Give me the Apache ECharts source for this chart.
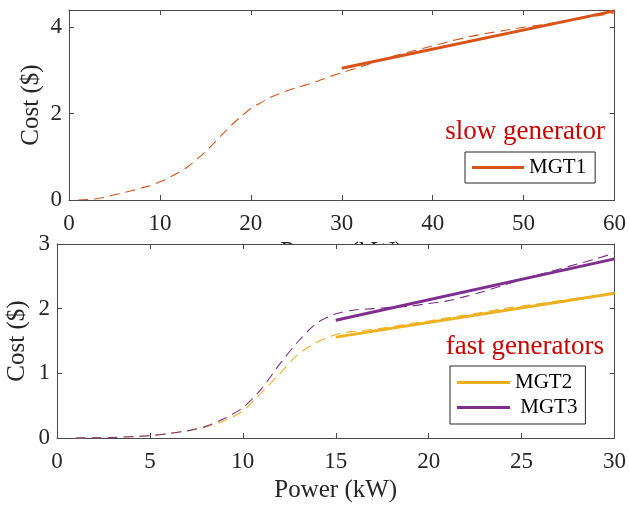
<!DOCTYPE html>
<html>
<head>
<meta charset="utf-8">
<script src="https://cdn.jsdelivr.net/npm/echarts@6/dist/echarts.min.js"></script>
<style>
html,body{margin:0;padding:0;background:#fff;}
#chart{width:629px;height:505px;}
</style>
</head>
<body>
<div id="chart"></div>
<script>
// ---- data ----
// Top panel: slow generator MGT1
const mgt1CurveX = [1,2,3,4,5,6,7,8,9,10,11,12,13,14,15,16,17,18,19,20,21,22,23,24,25,26,27,28,29,30,32,34,36,38,40,42,44,46,48,50,52,54,56,58,60];
const mgt1CurveY = [0,0.01,0.03,0.07,0.12,0.17,0.22,0.28,0.34,0.42,0.52,0.63,0.76,0.93,1.12,1.33,1.55,1.76,1.95,2.12,2.24,2.36,2.45,2.53,2.6,2.66,2.73,2.8,2.88,2.95,3.08,3.22,3.35,3.46,3.57,3.68,3.78,3.86,3.93,4.0,4.06,4.12,4.19,4.26,4.33];
const mgt1LineX = [30,60];
const mgt1LineY = [3.05,4.38];

// Bottom panel: fast generators MGT2, MGT3
const fastCurveX = [1,2,3,4,5,6,7,8,9,10,11,12,13,14,15,16,17,18,19,20,21,22,23,24,25,26,27,28,29,30];
const mgt2CurveY = [0,0.003,0.008,0.02,0.035,0.07,0.11,0.17,0.27,0.42,0.7,1.0,1.3,1.48,1.6,1.65,1.68,1.72,1.77,1.81,1.86,1.9,1.95,2.0,2.04,2.08,2.12,2.16,2.2,2.24];
const mgt3CurveY = [0,0.003,0.008,0.02,0.035,0.07,0.11,0.18,0.3,0.47,0.76,1.15,1.5,1.78,1.92,1.98,2.0,2.02,2.04,2.08,2.12,2.19,2.27,2.36,2.45,2.53,2.61,2.69,2.77,2.86];
const mgt2LineX = [15,30];
const mgt2LineY = [1.56,2.24];
const mgt3LineX = [15,30];
const mgt3LineY = [1.82,2.77];

const topXTicks = {min:0, max:60, interval:10};
const topYTicks = {min:0, max:4.4, interval:2};
const botXTicks = {min:0, max:30, interval:5};
const botYTicks = {min:0, max:3, interval:1};

const xLabel = 'Power (kW)';
const yLabel = 'Cost ($)';
const topTitle = 'slow generator';
const botTitle = 'fast generators';

// ---- styling ----
const FONT = 'Liberation Serif';
const AX = '#4a4a4a';
const TXT = '#262626';
const C1 = '#D95319', C2 = '#EDB120', C3 = '#7E2F8E';

function pairs(xs, ys){ return xs.map((x,i)=>[x, ys[i]]); }

function mainX(grid, t, z, name){
  return {
    gridIndex: grid, type:'value', position:'bottom', min:t.min, max:t.max, interval:t.interval, z:z,
    axisLine:{show:true, onZero:false, lineStyle:{color:AX, width:1}},
    axisTick:{show:true, inside:true, length:5, lineStyle:{color:AX}},
    axisLabel:{show:true, margin:12, color:TXT, fontFamily:FONT, fontSize:23},
    splitLine:{show:false},
    name:name, nameLocation:'middle', nameGap:40,
    nameTextStyle:{color:TXT, fontFamily:FONT, fontSize:25}
  };
}
function secX(grid, t, z){
  return {
    gridIndex: grid, type:'value', position:'top', min:t.min, max:t.max, interval:t.interval, z:z,
    axisLine:{show:true, onZero:false, lineStyle:{color:AX, width:1}},
    axisTick:{show:true, inside:true, length:5, lineStyle:{color:AX}},
    axisLabel:{show:false}, splitLine:{show:false}
  };
}
function mainY(grid, t, z){
  return {
    gridIndex: grid, type:'value', position:'left', min:t.min, max:t.max, interval:t.interval, z:z,
    axisLine:{show:true, onZero:false, lineStyle:{color:AX, width:1}},
    axisTick:{show:true, inside:true, length:5, lineStyle:{color:AX}},
    axisLabel:{show:true, margin:7, color:TXT, fontFamily:FONT, fontSize:23,
      formatter: v => (Math.abs(v/t.interval - Math.round(v/t.interval)) < 1e-6 ? String(v) : '')},
    splitLine:{show:false}
  };
}
function secY(grid, t, z){
  return {
    gridIndex: grid, type:'value', position:'right', min:t.min, max:t.max, interval:t.interval, z:z,
    axisLine:{show:true, onZero:false, lineStyle:{color:AX, width:1}},
    axisTick:{show:true, inside:true, length:5, lineStyle:{color:AX}},
    axisLabel:{show:false}, splitLine:{show:false}
  };
}

const dashStyle = (c) => ({color:c, width:1.1, type:[10,6]});
const yNameText = (x, y) => ({type:'text', z:20, x:x, y:y, rotation:Math.PI/2,
  style:{text:yLabel, fill:TXT, font:'25px "Liberation Serif"', textAlign:'center', textVerticalAlign:'middle'}});

const option = {
  animation:false,
  backgroundColor:'#fff',
  grid:[
    {left:69, right:13, top:10, height:190, containLabel:false},
    {left:57, right:11, top:244, height:194, containLabel:false}
  ],
  xAxis:[ mainX(0, topXTicks, 0, xLabel), secX(0, topXTicks, 0), mainX(1, botXTicks, 10, xLabel), secX(1, botXTicks, 10) ],
  yAxis:[ mainY(0, topYTicks, 0), secY(0, topYTicks, 0), mainY(1, botYTicks, 10), secY(1, botYTicks, 10) ],
  legend:[
    {data:['MGT1'], orient:'vertical', left:465, top:152, padding:[5,9,5,7], itemWidth:52, itemHeight:3, icon:'rect',
     itemGap:4, borderColor:'#262626', borderWidth:1, backgroundColor:'#fff', z:20,
     textStyle:{color:'#000', fontFamily:FONT, fontSize:21}},
    {data:['MGT2','MGT3'], orient:'vertical', left:450, top:366, padding:[6,8,6,7], itemWidth:53, itemHeight:3, icon:'rect',
     itemGap:4, borderColor:'#262626', borderWidth:1, backgroundColor:'#fff', z:20,
     formatter: n => (n === 'MGT3' ? ' MGT3' : n),
     textStyle:{color:'#000', fontFamily:FONT, fontSize:21}}
  ],
  graphic:[
    {type:'rect', z:5, shape:{x:0, y:244, width:629, height:40}, style:{fill:'#fff'}},
    yNameText(31, 105),
    yNameText(17, 341),
    {type:'text', z:20, x:605, y:132, style:{text:topTitle, fill:'#cc0000', font:'27px "Liberation Serif"', textAlign:'right', textVerticalAlign:'middle'}},
    {type:'text', z:20, x:604, y:347, style:{text:botTitle, fill:'#cc0000', font:'27px "Liberation Serif"', textAlign:'right', textVerticalAlign:'middle'}}
  ],
  series:[
    {name:'MGT1 cost', type:'line', xAxisIndex:0, yAxisIndex:0, data:pairs(mgt1CurveX, mgt1CurveY), smooth:0.3, symbol:'none', lineStyle:dashStyle(C1), itemStyle:{color:C1}, z:2},
    {name:'MGT1', type:'line', xAxisIndex:0, yAxisIndex:0, data:pairs(mgt1LineX, mgt1LineY), symbol:'none', lineStyle:{color:C1, width:3}, itemStyle:{color:C1}, z:3},
    {name:'MGT2 cost', type:'line', xAxisIndex:2, yAxisIndex:2, data:pairs(fastCurveX, mgt2CurveY), smooth:0.3, symbol:'none', lineStyle:dashStyle(C2), itemStyle:{color:C2}, z:11},
    {name:'MGT3 cost', type:'line', xAxisIndex:2, yAxisIndex:2, data:pairs(fastCurveX, mgt3CurveY), smooth:0.3, symbol:'none', lineStyle:dashStyle(C3), itemStyle:{color:C3}, z:11},
    {name:'MGT2', type:'line', xAxisIndex:2, yAxisIndex:2, data:pairs(mgt2LineX, mgt2LineY), symbol:'none', lineStyle:{color:C2, width:3}, itemStyle:{color:C2}, z:12},
    {name:'MGT3', type:'line', xAxisIndex:2, yAxisIndex:2, data:pairs(mgt3LineX, mgt3LineY), symbol:'none', lineStyle:{color:C3, width:3}, itemStyle:{color:C3}, z:12}
  ]
};

const chart = echarts.init(document.getElementById('chart'), null, {renderer:'canvas'});
chart.setOption(option);
</script>
</body>
</html>
